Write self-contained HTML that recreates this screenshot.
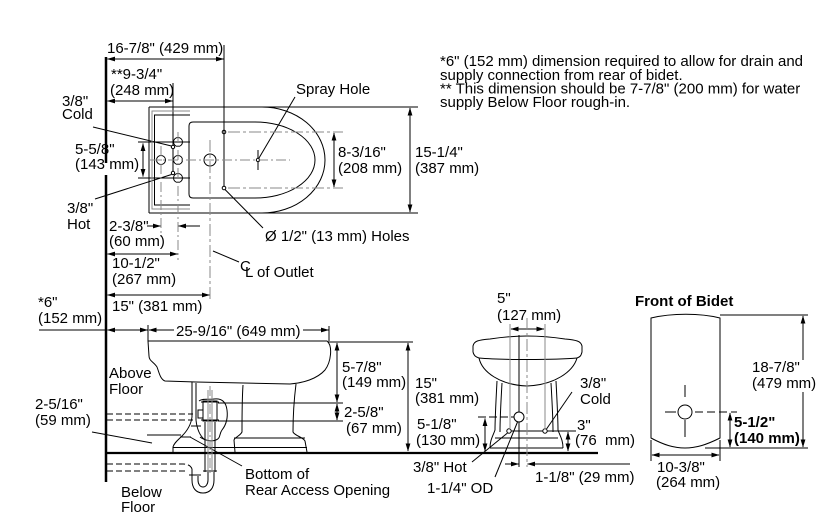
<!DOCTYPE html>
<html><head><meta charset="utf-8"><style>
html,body{margin:0;padding:0;background:#fff;}
svg{display:block;}
text{font-family:"Liberation Sans",Arial,sans-serif;font-size:15px;fill:#000;}
.b{font-weight:bold;}
</style></head><body>
<svg width="837" height="527" viewBox="0 0 837 527" xmlns="http://www.w3.org/2000/svg">
<defs>
<marker id="a" markerUnits="userSpaceOnUse" markerWidth="8" markerHeight="6" refX="7.5" refY="3" orient="auto-start-reverse"><path d="M0,0.6 L8,3 L0,5.4z" fill="#000"/></marker>
</defs>

<!-- walls / floors -->
<g stroke="#000" fill="none">
<path d="M106,57 V163 M106,175 V482" stroke-width="2.5"/>
<path d="M106,453 H598" stroke-width="2.2"/>
</g>

<!-- PLAN VIEW -->
<g stroke="#000" fill="none" stroke-width="1">
<path d="M149,107 H418 M149,213 H418 M149,107 V213"/>
<path d="M262,107 A63,53 0 0 1 262,213"/>
<path d="M255,122 H193 Q189,122 189,126 V194 Q189,198 193,198 H255 A60,38 0 0 0 255,122"/>
<path d="M190,115 H154.5 V205 H190"/>
<circle cx="178" cy="142" r="4.5"/>
<circle cx="178" cy="160" r="4.5"/>
<circle cx="178" cy="178" r="4.5"/>
<circle cx="161" cy="160" r="4.5"/>
<circle cx="210" cy="160" r="6"/>
<circle cx="173" cy="147" r="1.7"/>
<circle cx="173" cy="173" r="1.7"/>
<circle cx="224" cy="132" r="1.8"/>
<circle cx="224" cy="188" r="1.8"/>
<circle cx="258" cy="160" r="1.7"/>
<path d="M173,83 V145.3 M173,148.7 V171.3"/>
<path d="M224,45 V186.2"/>
<path d="M138,142 H190 M138,178 H190"/>
<path d="M258,150 V158.3 M258,161.7 V170"/>
<!-- leaders -->
<path d="M93,127 L171.5,146"/>
<path d="M95,199 L171.5,174.5"/>
<path d="M259,158 L295,97"/>
<path d="M225,189.5 L263,228"/>
<path d="M213,251 L239,262"/>
<!-- dims -->
<path d="M143,143.5 V176.5" marker-start="url(#a)" marker-end="url(#a)"/>
<path d="M334,133 V187" marker-start="url(#a)" marker-end="url(#a)"/>
<path d="M410,108 V212" marker-start="url(#a)" marker-end="url(#a)"/>
<path d="M107.5,59 H223.5" marker-start="url(#a)" marker-end="url(#a)"/>
<path d="M107.5,101 H172.5" marker-start="url(#a)" marker-end="url(#a)"/>
<path d="M147,226 H160.5" marker-end="url(#a)"/>
<path d="M200,226 H178.5" marker-end="url(#a)"/>
<path d="M107.5,254 H177.5" marker-start="url(#a)" marker-end="url(#a)"/>
<path d="M107.5,295 H209.5" marker-start="url(#a)" marker-end="url(#a)"/>
<path d="M39,330 H106"/>
<path d="M107.5,330 H147.5" marker-start="url(#a)" marker-end="url(#a)"/>
<path d="M148,325 V341"/>
<path d="M149,330 H174" marker-start="url(#a)"/>
<path d="M303,330 H328.5" marker-end="url(#a)"/>
<path d="M329,326 V343"/>
</g>
<g stroke="#8a8a8a" fill="none" stroke-width="1">
<path d="M190,111 H152 V209 H190"/>
<path d="M150,160 H290" stroke-dasharray="10,3,2,3"/>
<path d="M228,132 H343 M228,188 H343" stroke-dasharray="12,3,3,3"/>
<path d="M161,146 V237" stroke-dasharray="10,3,2,3"/>
<path d="M178,132 V260" stroke-dasharray="10,3,2,3"/>
<path d="M210,140 V300" stroke-dasharray="12,3,3,3"/>
</g>

<!-- SIDE VIEW -->
<g stroke="#000" fill="none" stroke-width="1">
<path d="M148,341 H327 C333,346 331,362 325,370 C317,379 303,383 290,384 L196,382 L165,381 C160,379 159,372 157,367 C154,362 149,361 149,356 Z"/>
<path d="M243,385 C242,400 242,420 242,432 C240,436 235,437 234,440 L235,452"/>
<path d="M296,384 C294,400 293,420 293,432 C295,436 303,437 305,441 L307,452"/>
<path d="M234,438 H305 M173,447.5 H307"/>
<path d="M192,382 V417 C191,425 186,432 182,436 C178,440 174,443 173,447 V452"/>
<path d="M196,383 V420 C197,430 200,436 205,440"/>
<path d="M199,401 C203,398 209,400 214,399 C222,398 226,402 227,410 C228,418 226,425 222,430 C219,434 221,438 216,440 C211,442 204,440 200,437"/>
<rect x="203" y="401" width="14" height="20" fill="#fff"/>
<path d="M201,402 H219 M201,420 H219"/>
<rect x="198" y="410" width="5" height="8"/>
<path d="M205,422 V472 M215,422 V472"/>
<path d="M191,426 H201 M180,437 H191"/>
<path d="M147,435 H181"/>
<path d="M218,403 H343 M218,421 H343"/>
<path d="M330,342 H413"/>
<path d="M192,469 V480 C192,488 196,493 203,493 C210,493 214,488 214,480 V472"/>
<path d="M198,476 V480 C198,484 200,487 203,487 C206,487 208,484 208,480 V472"/>
<path d="M189,475 H201 M203,471 H217"/>
<path d="M190,437 L242,466"/>
<path d="M92,432 L152,443"/>
<path d="M337,343 V402" marker-start="url(#a)" marker-end="url(#a)"/>
<path d="M337,404 V420" marker-start="url(#a)" marker-end="url(#a)"/>
<path d="M408,343 V451" marker-start="url(#a)" marker-end="url(#a)"/>
</g>
<g stroke="#000" fill="none" stroke-width="1" stroke-dasharray="6,3">
<path d="M107,414 H193 M107,420 H193"/>
<path d="M107,464 H183 C188,464 191,466 192,469"/>
<path d="M107,471 H186"/>
</g>
<g stroke="#8a8a8a" fill="none" stroke-width="1">
<path d="M208,390 V472 M212,390 V472"/>
<path d="M210,386 V476" stroke-dasharray="10,3,2,3"/>
</g>

<!-- FRONT VIEW -->
<g stroke="#000" fill="none" stroke-width="1">
<path d="M473,352 V346 C474,341 478,340 490,339 C503,337 515,336 527,336 C540,336 552,337 565,339 C576,340 581,341 582,346 V352 C581,356 580,357 577,358"/>
<path d="M473,352 C474,356 476,357 479,358"/>
<path d="M479,358 C500,360 555,360 577,358"/>
<path d="M479,358 C482,372 500,385 527,386 C554,385 573,372 577,358"/>
<path d="M497,381 C496,400 495,420 495,430 C493,436 490,440 490,448"/>
<path d="M502,383 C501,400 500,420 500,432"/>
<path d="M556,381 C557,400 558,420 558,430 C560,436 563,440 563,448"/>
<path d="M551,383 C552,400 553,420 553,432"/>
<path d="M495,438 H558 M490,448 H563"/>
<circle cx="509" cy="431" r="2.2" fill="#fff"/>
<circle cx="545" cy="431" r="2.2" fill="#fff"/>
<circle cx="519" cy="417" r="5" fill="#fff"/>
<path d="M519,335 V412 M519,422 V467"/>
<path d="M511,329 H544" marker-start="url(#a)" marker-end="url(#a)"/>
<path d="M478,417 H514" stroke-dasharray="8,3"/>
<path d="M485,418.5 V451" marker-start="url(#a)" marker-end="url(#a)"/>
<path d="M511,431 H543 M547,431 H576"/>
<path d="M568,432 V451" marker-start="url(#a)" marker-end="url(#a)"/>
<path d="M505,464 H518.5" marker-end="url(#a)"/>
<path d="M630,464 H527.5" marker-end="url(#a)"/>
<path d="M546.5,429 L572,392"/>
<path d="M507.5,433 L472,462"/>
<path d="M517.5,422 L495,477"/>
</g>
<g stroke="#8a8a8a" fill="none" stroke-width="1">
<path d="M510,324 V429 M545,324 V429"/>
<path d="M527,318 V467" stroke-dasharray="12,3,3,3"/>
</g>

<!-- FRONT OF BIDET -->
<g stroke="#000" fill="none" stroke-width="1">
<path d="M651,318 C672,313 700,313 720,318 V438 C706,445 696,448 685,448 C674,448 664,445 651,438 Z"/>
<circle cx="685" cy="412" r="7"/>
<path d="M685,385 V397 M685,420 V437"/>
<path d="M665,412 H676"/>
<path d="M695,412 H737" stroke-dasharray="8,4"/>
<path d="M720,315 H808 M705,448 H808"/>
<path d="M730,413 V447" marker-start="url(#a)" marker-end="url(#a)"/>
<path d="M803,316 V360" marker-start="url(#a)"/>
<path d="M803,392 V447" marker-end="url(#a)"/>
<path d="M651,440 V461 M720,440 V461"/>
<path d="M652,455 H719" marker-start="url(#a)" marker-end="url(#a)"/>
</g>

<!-- TEXT -->
<text x="107" y="53">16-7/8" (429 mm)</text>
<text x="111" y="79">**9-3/4"</text>
<text x="110" y="95">(248 mm)</text>
<text x="62" y="106">3/8"</text>
<text x="62" y="119">Cold</text>
<text x="75" y="154">5-5/8"</text>
<text x="75" y="169">(143 mm)</text>
<text x="67" y="213">3/8"</text>
<text x="67" y="229">Hot</text>
<text x="109" y="231">2-3/8"</text>
<text x="109" y="246">(60 mm)</text>
<text x="112" y="268">10-1/2"</text>
<text x="112" y="284">(267 mm)</text>
<text x="112" y="311">15" (381 mm)</text>
<text x="38" y="307">*6"</text>
<text x="38" y="323">(152 mm)</text>
<text x="296" y="94">Spray Hole</text>
<text x="338" y="157">8-3/16"</text>
<text x="338" y="173">(208 mm)</text>
<text x="415" y="157">15-1/4"</text>
<text x="415" y="173">(387 mm)</text>
<text x="265" y="241">Ø 1/2" (13 mm) Holes</text>
<text x="240" y="271">C</text>
<text x="245" y="277">L</text>
<text x="257" y="277">of Outlet</text>
<text x="176" y="336">25-9/16" (649 mm)</text>
<text x="109" y="378">Above</text>
<text x="109" y="394">Floor</text>
<text x="35" y="409">2-5/16"</text>
<text x="35" y="425">(59 mm)</text>
<text x="121" y="497">Below</text>
<text x="121" y="512">Floor</text>
<text x="245" y="479">Bottom of</text>
<text x="245" y="495">Rear Access Opening</text>
<text x="342" y="372">5-7/8"</text>
<text x="342" y="387">(149 mm)</text>
<text x="344" y="417">2-5/8"</text>
<text x="346" y="433">(67 mm)</text>
<text x="415" y="388">15"</text>
<text x="415" y="403">(381 mm)</text>
<text x="417" y="429">5-1/8"</text>
<text x="416" y="445">(130 mm)</text>
<text x="497" y="303">5"</text>
<text x="497" y="320">(127 mm)</text>
<text x="580" y="388">3/8"</text>
<text x="580" y="404">Cold</text>
<text x="577" y="430">3"</text>
<text x="575" y="445" xml:space="preserve">(76  mm)</text>
<text x="413" y="472">3/8" Hot</text>
<text x="427" y="493">1-1/4" OD</text>
<text x="535" y="482">1-1/8" (29 mm)</text>
<text x="635" y="306" class="b">Front of Bidet</text>
<text x="752" y="372">18-7/8"</text>
<text x="752" y="388">(479 mm)</text>
<text x="734" y="427" class="b">5-1/2"</text>
<text x="734" y="443" class="b">(140 mm)</text>
<text x="657" y="472">10-3/8"</text>
<text x="656" y="487">(264 mm)</text>
<text x="440" y="66">*6" (152 mm) dimension required to allow for drain and</text>
<text x="440" y="80">supply connection from rear of bidet.</text>
<text x="440" y="93.5">** This dimension should be 7-7/8" (200 mm) for water</text>
<text x="440" y="107">supply Below Floor rough-in.</text>
</svg>
</body></html>
